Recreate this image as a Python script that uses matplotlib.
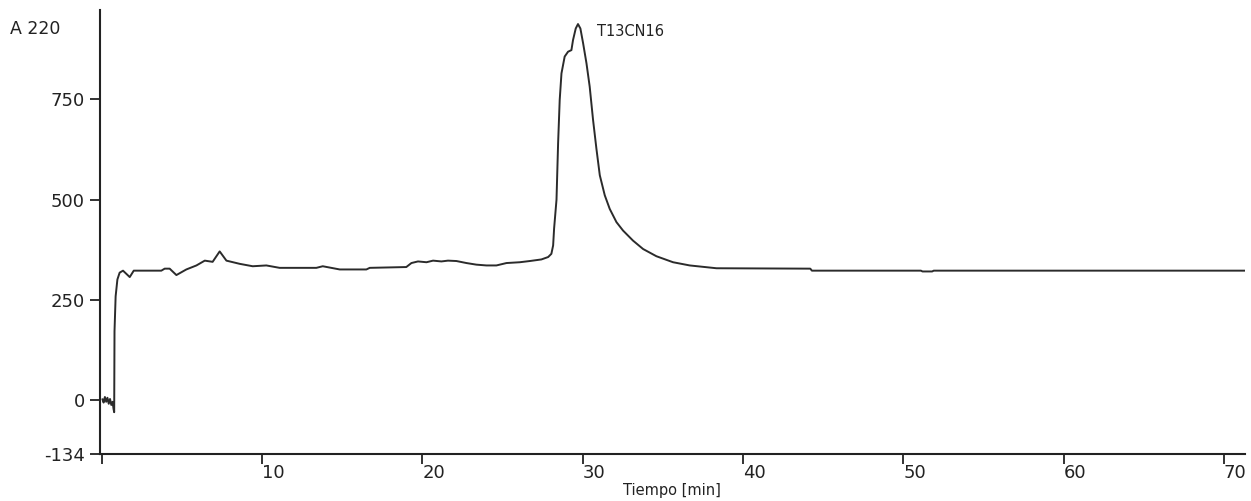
import matplotlib
matplotlib.use("Agg")
import matplotlib.pyplot as plt

tiempo = [0.05, 0.12, 0.2, 0.28, 0.36, 0.44, 0.52, 0.6, 0.68, 0.74, 0.78,
          0.8, 0.87, 0.98, 1.12, 1.33, 1.75, 2.0, 3.72, 3.93, 4.24, 4.66,
          5.28, 5.91, 6.43, 6.92, 7.36, 7.78, 8.61, 9.42, 10.27, 11.1,
          13.39, 13.79, 14.85, 16.51, 16.72, 19.0, 19.32, 19.73, 20.26,
          20.67, 21.19, 21.6, 22.13, 22.75, 23.37, 24.0, 24.62, 25.25,
          26.08, 26.7, 27.43, 27.85, 28.05, 28.16, 28.22, 28.37, 28.47,
          28.57, 28.68, 28.88, 29.09, 29.3, 29.4, 29.57, 29.71, 29.86,
          30.03, 30.24, 30.44, 30.65, 30.86, 31.07, 31.38, 31.69, 32.11,
          32.52, 33.14, 33.77, 34.6, 35.64, 36.68, 38.35, 44.2, 44.3,
          51.1, 51.2, 51.8, 51.9, 71.3]
absorbancia = [2, -6, 8, -4, 6, -9, 3, -12, -4, -22, -30,
               172, 259, 301, 318, 323, 307, 323, 323, 328, 328, 312,
               326, 336, 348, 345, 371, 348, 340, 334, 336, 330,
               330, 334, 326, 326, 330, 332, 342, 346, 344,
               348, 346, 348, 347, 342, 338, 336, 336, 342,
               344, 347, 351, 357, 365, 386, 428, 500, 641,
               749, 815, 857, 869, 873, 898, 927, 938, 927,
               890, 840, 782, 699, 627, 561, 511, 477, 444,
               423, 398, 377, 359, 344, 336, 329, 328, 323,
               323, 321, 321, 323, 323]

xticks = [0, 10, 20, 30, 40, 50, 60, 70]
xtick_labels = ["", "10", "20", "30", "40", "50", "60", "70"]
yticks = [-134, 0, 250, 500, 750]
ytick_labels = ["-134", "0", "250", "500", "750"]

fig = plt.figure(figsize=(12.51, 5.01), dpi=100)
ax = fig.add_axes([0.08, 0.094, 0.915, 0.886])

ax.plot(tiempo, absorbancia, color="#2b2b2b", lw=1.4)

ax.set_xlim(-0.1, 71.3)
ax.set_ylim(-134, 973)

for s in ["top", "right"]:
    ax.spines[s].set_visible(False)
for s in ["left", "bottom"]:
    ax.spines[s].set_color("#222222")
    ax.spines[s].set_linewidth(1.5)

ax.set_xticks(xticks)
ax.set_xticklabels(xtick_labels, fontsize=13, color="#222222")
for lab in ax.get_xticklabels():
    lab.set_horizontalalignment("left")
ax.tick_params(axis="x", length=7, width=1.3, pad=0, color="#222222")

ax.set_yticks(yticks)
ax.set_yticklabels(ytick_labels, fontsize=13, color="#222222")
ax.tick_params(axis="y", length=7, width=1.3, pad=4, color="#222222")

ax.set_xlabel("Tiempo [min]", fontsize=10.5, color="#222222", labelpad=1)

ax.text(-0.079, 0.958, "A 220", transform=ax.transAxes, fontsize=12.5,
        color="#222222", ha="left", va="center")
ax.text(30.9, 920, "T13CN16", fontsize=10.5, color="#222222",
        ha="left", va="center")

fig.savefig("out.png", dpi=100)
